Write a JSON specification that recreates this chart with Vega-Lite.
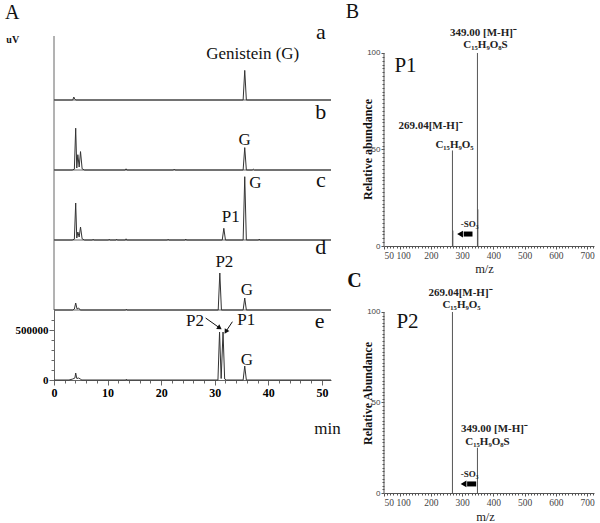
{
  "$schema": "https://vega.github.io/schema/vega-lite/v6.json",
  "padding": {"left": 4, "top": 2, "right": 5, "bottom": 5},
  "config": {
    "view": {"stroke": null},
    "axis": {"grid": false, "domainColor": "#666", "tickColor": "#666", "labelFont": "Liberation Serif", "titleFont": "Liberation Serif"},
    "text": {"font": "Liberation Serif"}
  },
  "datasets": {
    "chrom": [
      {"p":"a","t":0,"v":0},{"p":"a","t":3.5,"v":0},{"p":"a","t":3.7,"v":30000},{"p":"a","t":3.85,"v":10000},{"p":"a","t":4.1,"v":0},{"p":"a","t":35.3,"v":0},{"p":"a","t":35.6,"v":296000},{"p":"a","t":35.9,"v":0},{"p":"a","t":51.7,"v":0},
      {"p":"b","t":0,"v":0},{"p":"b","t":3.4,"v":0},{"p":"b","t":3.8,"v":8000},{"p":"b","t":4.05,"v":418000},{"p":"b","t":4.25,"v":20000},{"p":"b","t":4.45,"v":153000},{"p":"b","t":4.7,"v":30000},{"p":"b","t":4.95,"v":184000},{"p":"b","t":5.25,"v":12000},{"p":"b","t":5.7,"v":0},{"p":"b","t":13.3,"v":0},{"p":"b","t":13.45,"v":12000},{"p":"b","t":13.6,"v":0},{"p":"b","t":22.3,"v":0},{"p":"b","t":22.45,"v":10000},{"p":"b","t":22.6,"v":0},{"p":"b","t":35.3,"v":0},{"p":"b","t":35.6,"v":224000},{"p":"b","t":35.9,"v":0},{"p":"b","t":37.0,"v":0},{"p":"b","t":37.2,"v":8000},{"p":"b","t":37.4,"v":0},{"p":"b","t":51.7,"v":0},
      {"p":"c","t":0,"v":0},{"p":"c","t":3.4,"v":0},{"p":"c","t":3.8,"v":8000},{"p":"c","t":4.05,"v":370000},{"p":"c","t":4.25,"v":20000},{"p":"c","t":4.45,"v":80000},{"p":"c","t":4.7,"v":30000},{"p":"c","t":4.95,"v":130000},{"p":"c","t":5.25,"v":12000},{"p":"c","t":5.7,"v":0},{"p":"c","t":7.2,"v":0},{"p":"c","t":7.3,"v":8000},{"p":"c","t":7.4,"v":0},{"p":"c","t":10.2,"v":0},{"p":"c","t":10.3,"v":8000},{"p":"c","t":10.4,"v":0},{"p":"c","t":11.6,"v":0},{"p":"c","t":11.7,"v":8000},{"p":"c","t":11.8,"v":0},{"p":"c","t":13.35,"v":0},{"p":"c","t":13.45,"v":12000},{"p":"c","t":13.55,"v":0},{"p":"c","t":21.2,"v":0},{"p":"c","t":21.3,"v":8000},{"p":"c","t":21.4,"v":0},{"p":"c","t":24.5,"v":0},{"p":"c","t":24.6,"v":10000},{"p":"c","t":24.7,"v":0},{"p":"c","t":31.4,"v":0},{"p":"c","t":31.7,"v":117000},{"p":"c","t":32.0,"v":0},{"p":"c","t":35.3,"v":0},{"p":"c","t":35.6,"v":633000},{"p":"c","t":35.9,"v":0},{"p":"c","t":38.2,"v":0},{"p":"c","t":38.3,"v":10000},{"p":"c","t":38.4,"v":0},{"p":"c","t":51.7,"v":0},
      {"p":"d","t":0,"v":0},{"p":"d","t":3.5,"v":0},{"p":"d","t":3.8,"v":10000},{"p":"d","t":4.05,"v":70000},{"p":"d","t":4.3,"v":10000},{"p":"d","t":4.6,"v":20000},{"p":"d","t":4.9,"v":0},{"p":"d","t":13.4,"v":0},{"p":"d","t":13.5,"v":8000},{"p":"d","t":13.6,"v":0},{"p":"d","t":30.65,"v":0},{"p":"d","t":30.95,"v":370000},{"p":"d","t":31.25,"v":0},{"p":"d","t":35.3,"v":0},{"p":"d","t":35.6,"v":120000},{"p":"d","t":35.9,"v":0},{"p":"d","t":51.7,"v":0},
      {"p":"e","t":0,"v":0},{"p":"e","t":2.8,"v":0},{"p":"e","t":3.5,"v":10000},{"p":"e","t":3.9,"v":20000},{"p":"e","t":4.05,"v":70000},{"p":"e","t":4.25,"v":15000},{"p":"e","t":4.6,"v":20000},{"p":"e","t":4.9,"v":10000},{"p":"e","t":5.2,"v":0},{"p":"e","t":13.4,"v":0},{"p":"e","t":13.5,"v":8000},{"p":"e","t":13.6,"v":0},{"p":"e","t":30.6,"v":0},{"p":"e","t":30.9,"v":480000},{"p":"e","t":31.2,"v":15000},{"p":"e","t":31.55,"v":480000},{"p":"e","t":31.85,"v":10000},{"p":"e","t":32.2,"v":0},{"p":"e","t":35.3,"v":0},{"p":"e","t":35.6,"v":140000},{"p":"e","t":35.9,"v":0},{"p":"e","t":51.7,"v":0}
    ],
    "peaklab": [
      {"p":"a","t":37.1,"v":460000,"label":"Genistein (G)"},
      {"p":"b","t":35.6,"v":300000,"label":"G"},
      {"p":"c","t":37.6,"v":570000,"label":"G"},
      {"p":"c","t":33.0,"v":230000,"label":"P1"},
      {"p":"d","t":31.8,"v":480000,"label":"P2"},
      {"p":"d","t":36.0,"v":200000,"label":"G"},
      {"p":"e","t":26.3,"v":590000,"label":"P2"},
      {"p":"e","t":35.9,"v":600000,"label":"P1"},
      {"p":"e","t":36.0,"v":200000,"label":"G"}
    ],
    "letters": [
      {"p":"a","t":49.8,"v":680000,"label":"a"},
      {"p":"b","t":49.8,"v":580000,"label":"b"},
      {"p":"c","t":49.8,"v":600000,"label":"c"},
      {"p":"d","t":49.8,"v":630000,"label":"d"},
      {"p":"e","t":49.6,"v":590000,"label":"e"}
    ],
    "figA": [
      {"id":"A","t":-7.8,"v":875000,"label":"A"},
      {"id":"uV","t":-7.7,"v":600000,"label":"uV"}
    ],
    "arrowsA": [
      {"id":"P2","t1":28.3,"v1":620000,"t2":30.8,"v2":525000},
      {"id":"P1","t1":33.3,"v1":583000,"t2":32.15,"v2":490000}
    ],
    "ms": [
      {"p":"B","mz":269.04,"ab":49.5},{"p":"B","mz":349.0,"ab":100},{"p":"B","mz":270.3,"ab":8},{"p":"B","mz":350.3,"ab":19},
      {"p":"C","mz":269.04,"ab":100},{"p":"C","mz":349.0,"ab":25}
    ],
    "ions": [
      {"p":"B","mz":368.4,"ab":110.4,"label":"349.00 [M-H]⁻"},
      {"p":"B","mz":374.8,"ab":104.1,"label":"C₁₅H₉O₈S"},
      {"p":"B","mz":198.8,"ab":62.2,"label":"269.04[M-H]⁻"},
      {"p":"B","mz":275.6,"ab":52.3,"label":"C₁₅H₉O₅"},
      {"p":"C","mz":294.8,"ab":110.5,"label":"269.04[M-H]⁻"},
      {"p":"C","mz":298,"ab":103.9,"label":"C₁₅H₉O₅"},
      {"p":"C","mz":403.6,"ab":35.4,"label":"349.00 [M-H]⁻"},
      {"p":"C","mz":381.2,"ab":28.2,"label":"C₁₅H₉O₈S"}
    ],
    "plab": [
      {"p":"B","mz":118.8,"ab":93.3,"label":"P1"},
      {"p":"C","mz":125.2,"ab":94.5,"label":"P2"}
    ],
    "so3": [
      {"p":"B","mz":323.6,"ab":11.4,"label":"-SO₃"},
      {"p":"C","mz":323.6,"ab":10.5,"label":"-SO₃"}
    ],
    "arrowsMS": [
      {"p":"B","tip":296.4,"start":305,"end":333.2,"ab":6.2},
      {"p":"C","tip":307.6,"start":316,"end":345,"ab":5.0}
    ],
    "figlet": [
      {"p":"B","mz":-51,"ab":121,"label":"B"},
      {"p":"C","mz":-44.4,"ab":117.1,"label":"C"}
    ]
  },
  "spacing": 4,
  "hconcat": [
    {
      "spacing": 0,
      "bounds": "flush",
      "vconcat": [
        {
          "width": 277, "height": 64,
          "layer": [
            {"data":{"values":[{}]},"mark":{"type":"rule","color":"#666","strokeWidth":1},
             "encoding":{"x":{"datum":0,"type":"quantitative","scale":{"domain":[0,51.7],"nice":false,"zero":false},"axis":null},"y":{"datum":0,"type":"quantitative","scale":{"domain":[0,640000],"nice":false},"axis":null},"y2":{"datum":640000}}},
            {"data":{"values":[{}]},"mark":{"type":"rule","color":"#666","strokeWidth":1},
             "encoding":{"x":{"datum":0,"type":"quantitative","scale":{"domain":[0,51.7],"nice":false,"zero":false},"axis":null},"x2":{"datum":51.7},"y":{"datum":0,"type":"quantitative","scale":{"domain":[0,640000],"nice":false},"axis":null}}},
            {"data":{"name":"chrom"},"transform":[{"filter":"datum.p == 'a'"}],"mark":{"type":"line","color":"#333","strokeWidth":1},
             "encoding":{"x":{"field":"t","type":"quantitative","scale":{"domain":[0,51.7],"nice":false,"zero":false},"axis":null},
                         "y":{"field":"v","type":"quantitative","scale":{"domain":[0,640000],"nice":false},"axis":null}}},
            {"data":{"name":"peaklab"},"transform":[{"filter":"datum.p == 'a'"}],"mark":{"type":"text","fontSize":17,"baseline":"middle","color":"#111"},
             "encoding":{"x":{"field":"t","type":"quantitative","scale":{"domain":[0,51.7],"nice":false,"zero":false},"axis":null},"y":{"field":"v","type":"quantitative","scale":{"domain":[0,640000],"nice":false},"axis":null},"text":{"field":"label"}}},
            {"data":{"name":"letters"},"transform":[{"filter":"datum.p == 'a'"}],"mark":{"type":"text","fontSize":22,"baseline":"middle","color":"#111"},
             "encoding":{"x":{"field":"t","type":"quantitative","scale":{"domain":[0,51.7],"nice":false,"zero":false},"axis":null},"y":{"field":"v","type":"quantitative","scale":{"domain":[0,640000],"nice":false},"axis":null},"text":{"field":"label"}}},
            {"data":{"name":"figA"},"transform":[{"filter":"datum.id == 'A'"}],"mark":{"type":"text","fontSize":20,"baseline":"middle","color":"#111"},
             "encoding":{"x":{"field":"t","type":"quantitative","scale":{"domain":[0,51.7],"nice":false,"zero":false},"axis":null},"y":{"field":"v","type":"quantitative","scale":{"domain":[0,640000],"nice":false},"axis":null},"text":{"field":"label"}}},
            {"data":{"name":"figA"},"transform":[{"filter":"datum.id == 'uV'"}],"mark":{"type":"text","fontSize":10,"fontWeight":"bold","baseline":"middle","color":"#111"},
             "encoding":{"x":{"field":"t","type":"quantitative","scale":{"domain":[0,51.7],"nice":false,"zero":false},"axis":null},"y":{"field":"v","type":"quantitative","scale":{"domain":[0,640000],"nice":false},"axis":null},"text":{"field":"label"}}}
          ]
        },
        {
          "width": 277, "height": 70,
          "layer": [
            {"data":{"values":[{}]},"mark":{"type":"rule","color":"#666","strokeWidth":1},
             "encoding":{"x":{"datum":0,"type":"quantitative","scale":{"domain":[0,51.7],"nice":false,"zero":false},"axis":null},"y":{"datum":0,"type":"quantitative","scale":{"domain":[0,700000],"nice":false},"axis":null},"y2":{"datum":700000}}},
            {"data":{"values":[{}]},"mark":{"type":"rule","color":"#666","strokeWidth":1},
             "encoding":{"x":{"datum":0,"type":"quantitative","scale":{"domain":[0,51.7],"nice":false,"zero":false},"axis":null},"x2":{"datum":51.7},"y":{"datum":0,"type":"quantitative","scale":{"domain":[0,700000],"nice":false},"axis":null}}},
            {"data":{"name":"chrom"},"transform":[{"filter":"datum.p == 'b'"}],"mark":{"type":"line","color":"#333","strokeWidth":1},
             "encoding":{"x":{"field":"t","type":"quantitative","scale":{"domain":[0,51.7],"nice":false,"zero":false},"axis":null},
                         "y":{"field":"v","type":"quantitative","scale":{"domain":[0,700000],"nice":false},"axis":null}}},
            {"data":{"name":"peaklab"},"transform":[{"filter":"datum.p == 'b'"}],"mark":{"type":"text","fontSize":17,"baseline":"middle","color":"#111"},
             "encoding":{"x":{"field":"t","type":"quantitative","scale":{"domain":[0,51.7],"nice":false,"zero":false},"axis":null},"y":{"field":"v","type":"quantitative","scale":{"domain":[0,700000],"nice":false},"axis":null},"text":{"field":"label"}}},
            {"data":{"name":"letters"},"transform":[{"filter":"datum.p == 'b'"}],"mark":{"type":"text","fontSize":22,"baseline":"middle","color":"#111"},
             "encoding":{"x":{"field":"t","type":"quantitative","scale":{"domain":[0,51.7],"nice":false,"zero":false},"axis":null},"y":{"field":"v","type":"quantitative","scale":{"domain":[0,700000],"nice":false},"axis":null},"text":{"field":"label"}}}
          ]
        },
        {
          "width": 277, "height": 70,
          "layer": [
            {"data":{"values":[{}]},"mark":{"type":"rule","color":"#666","strokeWidth":1},
             "encoding":{"x":{"datum":0,"type":"quantitative","scale":{"domain":[0,51.7],"nice":false,"zero":false},"axis":null},"y":{"datum":0,"type":"quantitative","scale":{"domain":[0,700000],"nice":false},"axis":null},"y2":{"datum":700000}}},
            {"data":{"values":[{}]},"mark":{"type":"rule","color":"#666","strokeWidth":1},
             "encoding":{"x":{"datum":0,"type":"quantitative","scale":{"domain":[0,51.7],"nice":false,"zero":false},"axis":null},"x2":{"datum":51.7},"y":{"datum":0,"type":"quantitative","scale":{"domain":[0,700000],"nice":false},"axis":null}}},
            {"data":{"name":"chrom"},"transform":[{"filter":"datum.p == 'c'"}],"mark":{"type":"line","color":"#333","strokeWidth":1},
             "encoding":{"x":{"field":"t","type":"quantitative","scale":{"domain":[0,51.7],"nice":false,"zero":false},"axis":null},
                         "y":{"field":"v","type":"quantitative","scale":{"domain":[0,700000],"nice":false},"axis":null}}},
            {"data":{"name":"peaklab"},"transform":[{"filter":"datum.p == 'c'"}],"mark":{"type":"text","fontSize":17,"baseline":"middle","color":"#111"},
             "encoding":{"x":{"field":"t","type":"quantitative","scale":{"domain":[0,51.7],"nice":false,"zero":false},"axis":null},"y":{"field":"v","type":"quantitative","scale":{"domain":[0,700000],"nice":false},"axis":null},"text":{"field":"label"}}},
            {"data":{"name":"letters"},"transform":[{"filter":"datum.p == 'c'"}],"mark":{"type":"text","fontSize":22,"baseline":"middle","color":"#111"},
             "encoding":{"x":{"field":"t","type":"quantitative","scale":{"domain":[0,51.7],"nice":false,"zero":false},"axis":null},"y":{"field":"v","type":"quantitative","scale":{"domain":[0,700000],"nice":false},"axis":null},"text":{"field":"label"}}}
          ]
        },
        {
          "width": 277, "height": 70,
          "layer": [
            {"data":{"values":[{}]},"mark":{"type":"rule","color":"#666","strokeWidth":1},
             "encoding":{"x":{"datum":0,"type":"quantitative","scale":{"domain":[0,51.7],"nice":false,"zero":false},"axis":null},"y":{"datum":0,"type":"quantitative","scale":{"domain":[0,700000],"nice":false},"axis":null},"y2":{"datum":700000}}},
            {"data":{"values":[{}]},"mark":{"type":"rule","color":"#666","strokeWidth":1},
             "encoding":{"x":{"datum":0,"type":"quantitative","scale":{"domain":[0,51.7],"nice":false,"zero":false},"axis":null},"x2":{"datum":51.7},"y":{"datum":0,"type":"quantitative","scale":{"domain":[0,700000],"nice":false},"axis":null}}},
            {"data":{"name":"chrom"},"transform":[{"filter":"datum.p == 'd'"}],"mark":{"type":"line","color":"#333","strokeWidth":1},
             "encoding":{"x":{"field":"t","type":"quantitative","scale":{"domain":[0,51.7],"nice":false,"zero":false},"axis":null},
                         "y":{"field":"v","type":"quantitative","scale":{"domain":[0,700000],"nice":false},"axis":null}}},
            {"data":{"name":"peaklab"},"transform":[{"filter":"datum.p == 'd'"}],"mark":{"type":"text","fontSize":17,"baseline":"middle","color":"#111"},
             "encoding":{"x":{"field":"t","type":"quantitative","scale":{"domain":[0,51.7],"nice":false,"zero":false},"axis":null},"y":{"field":"v","type":"quantitative","scale":{"domain":[0,700000],"nice":false},"axis":null},"text":{"field":"label"}}},
            {"data":{"name":"letters"},"transform":[{"filter":"datum.p == 'd'"}],"mark":{"type":"text","fontSize":22,"baseline":"middle","color":"#111"},
             "encoding":{"x":{"field":"t","type":"quantitative","scale":{"domain":[0,51.7],"nice":false,"zero":false},"axis":null},"y":{"field":"v","type":"quantitative","scale":{"domain":[0,700000],"nice":false},"axis":null},"text":{"field":"label"}}}
          ]
        },
        {
          "width": 277, "height": 70,
          "resolve": {"axis": {"x": "independent", "y": "independent"}},
          "layer": [
            {"data":{"name":"chrom"},"transform":[{"filter":"datum.p == 'e'"}],"mark":{"type":"line","color":"#333","strokeWidth":1},
             "encoding":{"x":{"field":"t","type":"quantitative","scale":{"domain":[0,51.7],"nice":false,"zero":false},
                              "axis":{"orient":"bottom","values":[0,10,20,30,40,50],"labelFontWeight":"bold","labelFontSize":12,"labelColor":"#000","labelFlush":false,"tickSize":5,"labelPadding":2,"title":"min","titleFontWeight":"normal","titleFontSize":17,"titleColor":"#111","titleX":273,"titleY":48,"titleBaseline":"middle","titleAlign":"center"}},
                         "y":{"field":"v","type":"quantitative","scale":{"domain":[0,700000],"nice":false},
                              "axis":{"orient":"left","values":[0,500000],"format":"d","labelFontWeight":"bold","labelFontSize":11,"labelColor":"#000","tickSize":5,"labelPadding":1,"title":null}}}},
            {"data":{"name":"peaklab"},"transform":[{"filter":"datum.p == 'e'"}],"mark":{"type":"text","fontSize":17,"baseline":"middle","color":"#111"},
             "encoding":{"x":{"field":"t","type":"quantitative","scale":{"domain":[0,51.7],"nice":false,"zero":false},
                              "axis":{"orient":"bottom","values":[2,4,6,8,12,14,16,18,22,24,26,28,32,34,36,38,42,44,46,48],"tickSize":3,"labels":false,"domain":false,"title":null}},
                         "y":{"field":"v","type":"quantitative","scale":{"domain":[0,700000],"nice":false},
                              "axis":{"orient":"left","values":[100000,200000,300000,400000,600000],"tickSize":3,"labels":false,"domain":false,"title":null}},
                         "text":{"field":"label"}}},
            {"data":{"name":"letters"},"transform":[{"filter":"datum.p == 'e'"}],"mark":{"type":"text","fontSize":22,"baseline":"middle","color":"#111"},
             "encoding":{"x":{"field":"t","type":"quantitative","scale":{"domain":[0,51.7],"nice":false,"zero":false},"axis":null},"y":{"field":"v","type":"quantitative","scale":{"domain":[0,700000],"nice":false},"axis":null},"text":{"field":"label"}}},
            {"data":{"name":"arrowsA"},"mark":{"type":"rule","color":"#111","strokeWidth":1},
             "encoding":{"x":{"field":"t1","type":"quantitative","scale":{"domain":[0,51.7],"nice":false,"zero":false},"axis":null},"y":{"field":"v1","type":"quantitative","scale":{"domain":[0,700000],"nice":false},"axis":null},"x2":{"field":"t2"},"y2":{"field":"v2"}}},
            {"data":{"name":"arrowsA"},"transform":[{"filter":"datum.id == 'P2'"}],"mark":{"type":"point","shape":"triangle","filled":true,"color":"#111","size":30,"angle":124,"opacity":1},
             "encoding":{"x":{"field":"t2","type":"quantitative","scale":{"domain":[0,51.7],"nice":false,"zero":false},"axis":null},"y":{"field":"v2","type":"quantitative","scale":{"domain":[0,700000],"nice":false},"axis":null}}},
            {"data":{"name":"arrowsA"},"transform":[{"filter":"datum.id == 'P1'"}],"mark":{"type":"point","shape":"triangle","filled":true,"color":"#111","size":30,"angle":212,"opacity":1},
             "encoding":{"x":{"field":"t2","type":"quantitative","scale":{"domain":[0,51.7],"nice":false,"zero":false},"axis":null},"y":{"field":"v2","type":"quantitative","scale":{"domain":[0,700000],"nice":false},"axis":null}}}
          ]
        }
      ]
    },
    {
      "spacing": 20,
      "bounds": "flush",
      "vconcat": [
        {
          "width": 210, "height": 210,
          "resolve": {"axis": {"x": "independent", "y": "independent"}},
          "layer": [
            {"data":{"name":"ms"},"transform":[{"filter":"datum.p == 'B'"}],"mark":{"type":"rule","color":"#555","strokeWidth":1},
             "encoding":{"x":{"field":"mz","type":"quantitative","scale":{"domain":[50,722],"nice":false,"zero":false},
                              "axis":{"orient":"bottom","values":[50,100,200,300,400,500,600,700],"labelOverlap":false,"labelFontSize":9.5,"labelOffset":{"condition":{"test":"datum.value == 100","value":3.5},"value":0},"labelColor":"#444","tickSize":3,"tickColor":"#555","domainColor":"#555","labelPadding":1,"title":"m/z","titleFontWeight":"normal","titleFontSize":12.5,"titleColor":"#222","titleX":100,"titleY":22,"titleBaseline":"middle","titleAlign":"center"}},
                         "y":{"field":"ab","type":"quantitative","scale":{"domain":[0,108.8],"nice":false},
                              "axis":{"orient":"left","values":[0,50,100],"labelOverlap":false,"labelFontSize":8,"labelFont":"Liberation Sans","labelColor":"#444","tickSize":3,"tickColor":"#555","domain":false,"labelPadding":1,"title":"Relative abundance","titleFontWeight":"bold","titleFontSize":12,"titleColor":"#111","titleX":-17,"titleY":113,"titleAngle":270,"titleAlign":"center","titleBaseline":"middle"}},
                         "y2":{"datum":0}}},
            {"data":{"values":[{}]},"mark":{"type":"rule","color":"#555","strokeWidth":1},
             "encoding":{"x":{"datum":50,"type":"quantitative","scale":{"domain":[50,722],"nice":false,"zero":false},"axis":null},"y":{"datum":0,"type":"quantitative","scale":{"domain":[0,108.8],"nice":false},"axis":null},"y2":{"datum":100}}},
            {"data":{"name":"ions"},"transform":[{"filter":"datum.p == 'B'"}],"mark":{"type":"text","fontSize":11,"fontWeight":"bold","baseline":"middle","color":"#222"},
             "encoding":{"x":{"field":"mz","type":"quantitative","scale":{"domain":[50,722],"nice":false,"zero":false},
                              "axis":{"orient":"bottom","values":[60,70,80,90,110,120,130,140,150,160,170,180,190,210,220,230,240,250,260,270,280,290,310,320,330,340,350,360,370,380,390,410,420,430,440,450,460,470,480,490,510,520,530,540,550,560,570,580,590,610,620,630,640,650,660,670,680,690,710,720],"tickSize":2,"tickColor":"#555","labels":false,"domain":false,"title":null}},
                         "y":{"field":"ab","type":"quantitative","scale":{"domain":[0,108.8],"nice":false},
                              "axis":{"orient":"left","values":[2,4,6,8,10,12,14,16,18,20,22,24,26,28,30,32,34,36,38,40,42,44,46,48,52,54,56,58,60,62,64,66,68,70,72,74,76,78,80,82,84,86,88,90,92,94,96,98],"tickSize":2,"tickColor":"#555","labels":false,"domain":false,"title":null}},
                         "text":{"field":"label"}}},
            {"data":{"name":"plab"},"transform":[{"filter":"datum.p == 'B'"}],"mark":{"type":"text","fontSize":21,"baseline":"middle","color":"#111"},
             "encoding":{"x":{"field":"mz","type":"quantitative","scale":{"domain":[50,722],"nice":false,"zero":false},"axis":null},"y":{"field":"ab","type":"quantitative","scale":{"domain":[0,108.8],"nice":false},"axis":null},"text":{"field":"label"}}},
            {"data":{"name":"so3"},"transform":[{"filter":"datum.p == 'B'"}],"mark":{"type":"text","fontSize":9,"fontWeight":"bold","baseline":"middle","color":"#222"},
             "encoding":{"x":{"field":"mz","type":"quantitative","scale":{"domain":[50,722],"nice":false,"zero":false},"axis":null},"y":{"field":"ab","type":"quantitative","scale":{"domain":[0,108.8],"nice":false},"axis":null},"text":{"field":"label"}}},
            {"data":{"name":"arrowsMS"},"transform":[{"filter":"datum.p == 'B'"}],"mark":{"type":"rule","color":"#000","strokeWidth":5},
             "encoding":{"x":{"field":"start","type":"quantitative","scale":{"domain":[50,722],"nice":false,"zero":false},"axis":null},"x2":{"field":"end"},"y":{"field":"ab","type":"quantitative","scale":{"domain":[0,108.8],"nice":false},"axis":null}}},
            {"data":{"name":"arrowsMS"},"transform":[{"filter":"datum.p == 'B'"}],"mark":{"type":"point","shape":"triangle","filled":true,"color":"#000","size":45,"angle":270,"opacity":1},
             "encoding":{"x":{"field":"tip","type":"quantitative","scale":{"domain":[50,722],"nice":false,"zero":false},"axis":null},"y":{"field":"ab","type":"quantitative","scale":{"domain":[0,108.8],"nice":false},"axis":null}}},
            {"data":{"name":"figlet"},"transform":[{"filter":"datum.p == 'B'"}],"mark":{"type":"text","fontSize":20,"baseline":"middle","color":"#111"},
             "encoding":{"x":{"field":"mz","type":"quantitative","scale":{"domain":[50,722],"nice":false,"zero":false},"axis":null},"y":{"field":"ab","type":"quantitative","scale":{"domain":[0,108.8],"nice":false},"axis":null},"text":{"field":"label"}}}
          ]
        },
        {
          "width": 210, "height": 227,
          "resolve": {"axis": {"x": "independent", "y": "independent"}},
          "layer": [
            {"data":{"name":"ms"},"transform":[{"filter":"datum.p == 'C'"}],"mark":{"type":"rule","color":"#555","strokeWidth":1},
             "encoding":{"x":{"field":"mz","type":"quantitative","scale":{"domain":[50,722],"nice":false,"zero":false},
                              "axis":{"orient":"bottom","values":[50,100,200,300,400,500,600,700],"labelOverlap":false,"labelFontSize":9.5,"labelOffset":{"condition":{"test":"datum.value == 100","value":3.5},"value":0},"labelColor":"#444","tickSize":3,"tickColor":"#555","domainColor":"#555","labelPadding":1,"title":"m/z","titleFontWeight":"normal","titleFontSize":12.5,"titleColor":"#222","titleX":101,"titleY":23,"titleBaseline":"middle","titleAlign":"center"}},
                         "y":{"field":"ab","type":"quantitative","scale":{"domain":[0,125.4],"nice":false},
                              "axis":{"orient":"left","values":[0,50,100],"labelOverlap":false,"labelFontSize":8,"labelFont":"Liberation Sans","labelColor":"#444","tickSize":3,"tickColor":"#555","domain":false,"labelPadding":1,"title":"Relative Abundance","titleFontWeight":"bold","titleFontSize":12,"titleColor":"#111","titleX":-17,"titleY":127,"titleAngle":270,"titleAlign":"center","titleBaseline":"middle"}},
                         "y2":{"datum":0}}},
            {"data":{"values":[{}]},"mark":{"type":"rule","color":"#555","strokeWidth":1},
             "encoding":{"x":{"datum":50,"type":"quantitative","scale":{"domain":[50,722],"nice":false,"zero":false},"axis":null},"y":{"datum":0,"type":"quantitative","scale":{"domain":[0,125.4],"nice":false},"axis":null},"y2":{"datum":100}}},
            {"data":{"name":"ions"},"transform":[{"filter":"datum.p == 'C'"}],"mark":{"type":"text","fontSize":11,"fontWeight":"bold","baseline":"middle","color":"#222"},
             "encoding":{"x":{"field":"mz","type":"quantitative","scale":{"domain":[50,722],"nice":false,"zero":false},
                              "axis":{"orient":"bottom","values":[60,70,80,90,110,120,130,140,150,160,170,180,190,210,220,230,240,250,260,270,280,290,310,320,330,340,350,360,370,380,390,410,420,430,440,450,460,470,480,490,510,520,530,540,550,560,570,580,590,610,620,630,640,650,660,670,680,690,710,720],"tickSize":2,"tickColor":"#555","labels":false,"domain":false,"title":null}},
                         "y":{"field":"ab","type":"quantitative","scale":{"domain":[0,125.4],"nice":false},
                              "axis":{"orient":"left","values":[2,4,6,8,10,12,14,16,18,20,22,24,26,28,30,32,34,36,38,40,42,44,46,48,52,54,56,58,60,62,64,66,68,70,72,74,76,78,80,82,84,86,88,90,92,94,96,98],"tickSize":2,"tickColor":"#555","labels":false,"domain":false,"title":null}},
                         "text":{"field":"label"}}},
            {"data":{"name":"plab"},"transform":[{"filter":"datum.p == 'C'"}],"mark":{"type":"text","fontSize":21,"baseline":"middle","color":"#111"},
             "encoding":{"x":{"field":"mz","type":"quantitative","scale":{"domain":[50,722],"nice":false,"zero":false},"axis":null},"y":{"field":"ab","type":"quantitative","scale":{"domain":[0,125.4],"nice":false},"axis":null},"text":{"field":"label"}}},
            {"data":{"name":"so3"},"transform":[{"filter":"datum.p == 'C'"}],"mark":{"type":"text","fontSize":9,"fontWeight":"bold","baseline":"middle","color":"#222"},
             "encoding":{"x":{"field":"mz","type":"quantitative","scale":{"domain":[50,722],"nice":false,"zero":false},"axis":null},"y":{"field":"ab","type":"quantitative","scale":{"domain":[0,125.4],"nice":false},"axis":null},"text":{"field":"label"}}},
            {"data":{"name":"arrowsMS"},"transform":[{"filter":"datum.p == 'C'"}],"mark":{"type":"rule","color":"#000","strokeWidth":5},
             "encoding":{"x":{"field":"start","type":"quantitative","scale":{"domain":[50,722],"nice":false,"zero":false},"axis":null},"x2":{"field":"end"},"y":{"field":"ab","type":"quantitative","scale":{"domain":[0,125.4],"nice":false},"axis":null}}},
            {"data":{"name":"arrowsMS"},"transform":[{"filter":"datum.p == 'C'"}],"mark":{"type":"point","shape":"triangle","filled":true,"color":"#000","size":45,"angle":270,"opacity":1},
             "encoding":{"x":{"field":"tip","type":"quantitative","scale":{"domain":[50,722],"nice":false,"zero":false},"axis":null},"y":{"field":"ab","type":"quantitative","scale":{"domain":[0,125.4],"nice":false},"axis":null}}},
            {"data":{"name":"figlet"},"transform":[{"filter":"datum.p == 'C'"}],"mark":{"type":"text","fontSize":20,"fontWeight":"bold","baseline":"middle","color":"#111"},
             "encoding":{"x":{"field":"mz","type":"quantitative","scale":{"domain":[50,722],"nice":false,"zero":false},"axis":null},"y":{"field":"ab","type":"quantitative","scale":{"domain":[0,125.4],"nice":false},"axis":null},"text":{"field":"label"}}}
          ]
        }
      ]
    }
  ]
}
